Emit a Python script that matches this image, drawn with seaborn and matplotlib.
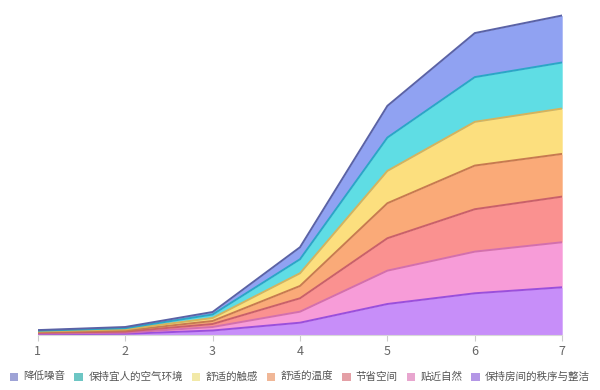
import numpy as np
import pandas as pd
import seaborn as sns
import matplotlib.pyplot as plt
from matplotlib.patches import Patch

# x 轴刻度
x = [1, 2, 3, 4, 5, 6, 7]

# 各系列（自下而上堆叠）
s_order = [0.8, 1.2, 4.5, 12.3, 31.0, 41.7, 47.7]     # 保持房间的秩序与整洁
s_nature = [0.7, 1.1, 3.5, 11.0, 33.3, 41.6, 45.0]    # 贴近自然
s_space = [0.7, 1.1, 3.0, 13.4, 32.4, 42.4, 45.6]     # 节省空间
s_temp = [0.7, 1.1, 3.0, 12.3, 35.0, 43.6, 42.7]      # 舒适的温度
s_touch = [0.7, 1.1, 3.0, 12.7, 32.3, 43.7, 45.3]     # 舒适的触感
s_air = [0.7, 1.2, 3.5, 14.0, 33.3, 44.7, 46.0]       # 保持宜人的空气环境
s_noise = [0.6, 1.2, 2.5, 12.0, 31.7, 44.0, 47.0]     # 降低噪音

labels = ['保持房间的秩序与整洁', '贴近自然', '节省空间', '舒适的温度',
          '舒适的触感', '保持宜人的空气环境', '降低噪音']
series = [s_order, s_nature, s_space, s_temp, s_touch, s_air, s_noise]

fill_colors = ['#c78ef9', '#f79cd8', '#fa9190', '#faaa78', '#fcdf7e', '#5fdde4', '#90a2f2']
line_colors = ['#9a4fdc', '#d36fae', '#c9606a', '#c77a50', '#d6b35c', '#2aa7c6', '#5a62a6']
legend_colors = ['#b497e6', '#e8a6cf', '#e4a0a6', '#f0b797', '#f2e9a8', '#6dc6c4', '#9ea3d6']

sns.set_theme(style="white")
plt.rcParams['font.family'] = ['Noto Sans CJK SC', 'DejaVu Sans']

fig = plt.figure(figsize=(6, 3.9), dpi=100)
ax = fig.add_axes([0.063, 0.141, 0.874, 0.834])

df = pd.DataFrame({'x': x})
bottom = np.zeros(len(x))
for name, vals, fc, lc in zip(labels, series, fill_colors, line_colors):
    top = bottom + np.array(vals)
    ax.fill_between(x, bottom, top, color=fc, linewidth=0, zorder=1)
    df['y'] = top
    sns.lineplot(data=df, x='x', y='y', ax=ax, color=lc, linewidth=1.4, zorder=2)
    bottom = top

ax.set_xlim(1, 7)
ax.set_ylim(0, 325)
ax.set_xticks(x)
ax.set_xticklabels([str(v) for v in x])
ax.set_yticks([])
ax.set_xlabel('')
ax.set_ylabel('')
for side in ['top', 'right', 'left']:
    ax.spines[side].set_visible(False)
ax.spines['bottom'].set_color('#d8d8d8')
ax.spines['bottom'].set_linewidth(0.8)
ax.tick_params(axis='x', colors='#cccccc', labelcolor='#666666', labelsize=9,
               length=4, width=0.8, bottom=True, pad=3)

handles = [Patch(facecolor=c, edgecolor='none') for c in legend_colors[::-1]]
fig.legend(handles, labels[::-1], loc='center', bbox_to_anchor=(0.5, 0.033), ncol=7,
           frameon=False, fontsize=7.6, handlelength=0.8, handleheight=0.8,
           handletextpad=0.5, columnspacing=0.85, labelcolor='#555555')

fig.savefig('out.png', dpi=100)
